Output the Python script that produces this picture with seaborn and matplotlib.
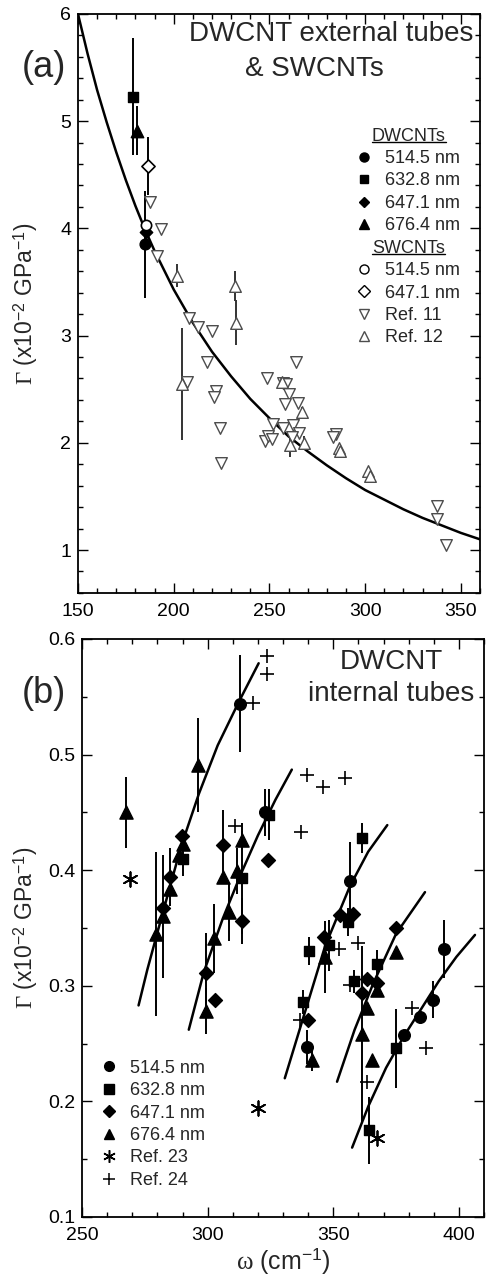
import matplotlib
matplotlib.use("Agg")
import matplotlib.pyplot as plt
import seaborn as sns
from matplotlib.lines import Line2D
from matplotlib.ticker import MultipleLocator

sns.set_style("ticks")
plt.rcParams['font.family'] = ['Liberation Sans', 'DejaVu Sans']
plt.rcParams['mathtext.fontset'] = 'custom'
plt.rcParams['mathtext.rm'] = 'Liberation Serif'
plt.rcParams['mathtext.sf'] = 'Liberation Sans'
plt.rcParams['mathtext.it'] = 'Liberation Serif:italic'

# ---------- panel (a): DWCNT external tubes & SWCNTs ----------
a_dw514_x, a_dw514_y, a_dw514_err = [185.0], [3.85], [0.50]
a_dw632_x, a_dw632_y, a_dw632_err = [178.9], [5.23], [0.55]
a_dw647_x, a_dw647_y = [185.5], [3.97]
a_dw676_x, a_dw676_y, a_dw676_err = [180.6], [4.91], [0.23]
a_sw514_x, a_sw514_y = [185.5], [4.03]
a_sw647_x, a_sw647_y, a_sw647_err = [186.7], [4.58], [0.27]

ref11_x = [187.6, 193.2, 191.1, 208.1, 212.5, 219.8, 217.2, 207.1, 222.1, 221.0,
           224.2, 224.7, 248.5, 247.7, 249.4, 263.8, 256.9, 258.6, 260.2, 258.1,
           265.1, 251.7, 262.4, 257.2, 265.6, 251.1, 261.6, 284.7, 283.0, 337.3,
           337.8, 342.5]
ref11_y = [4.25, 3.99, 3.74, 3.16, 3.08, 3.04, 2.75, 2.57, 2.48, 2.43,
           2.14, 1.81, 2.60, 2.02, 2.06, 2.75, 2.56, 2.55, 2.46, 2.36,
           2.37, 2.18, 2.17, 2.14, 2.09, 2.04, 2.05, 2.08, 2.05, 1.41,
           1.29, 1.05]

ref12_x = [201.9, 231.8, 232.5, 204.1, 256.4, 267.1, 260.7, 268.2, 286.4, 286.8, 301.6, 302.8]
ref12_y = [3.56, 3.46, 3.12, 2.55, 2.57, 2.29, 1.98, 2.00, 1.95, 1.92, 1.74, 1.69]
ref12_err = [0.11, 0.14, 0.21, 0.52, 0.03, 0.04, 0.11, 0.06, 0.0, 0.0, 0.0, 0.06]

fit_a_x = [150, 155, 160, 165, 170, 175, 180, 185, 190, 195, 200, 210, 220, 230,
           240, 250, 260, 270, 280, 290, 300, 310, 320, 330, 340, 350, 360]
fit_a_y = [6.00, 5.63, 5.29, 4.99, 4.71, 4.45, 4.21, 3.99, 3.79, 3.61, 3.43, 3.12,
           2.85, 2.62, 2.41, 2.23, 2.06, 1.92, 1.79, 1.67, 1.56, 1.47, 1.38, 1.30,
           1.23, 1.16, 1.10]

# ---------- panel (b): DWCNT internal tubes ----------
b514_x = [312.9, 322.8, 356.6, 339.4, 394.2, 389.5, 384.5, 378.1]
b514_y = [0.544, 0.450, 0.391, 0.247, 0.332, 0.288, 0.273, 0.257]
b514_err = [0.042, 0.020, 0.033, 0.015, 0.025, 0.016, 0.0, 0.0]

b632_x = [290.3, 324.5, 313.5, 361.3, 355.7, 348.4, 340.5, 338.1, 358.3, 367.6, 364.2, 374.9]
b632_y = [0.410, 0.448, 0.393, 0.428, 0.355, 0.335, 0.330, 0.286, 0.304, 0.319, 0.175, 0.246]
b632_err = [0.015, 0.022, 0.048, 0.013, 0.012, 0.022, 0.012, 0.010, 0.010, 0.012, 0.029, 0.034]

b647_x = [289.7, 285.0, 282.4, 306.0, 324.1, 313.5, 299.5, 303.0, 352.7, 357.9,
          346.4, 339.8, 361.3, 363.5, 367.3, 374.9]
b647_y = [0.430, 0.394, 0.367, 0.422, 0.409, 0.356, 0.311, 0.288, 0.361, 0.362,
          0.342, 0.270, 0.294, 0.306, 0.302, 0.350]
b647_err = [0.0, 0.025, 0.0, 0.030, 0.0, 0.020, 0.035, 0.0, 0.0, 0.0,
            0.0, 0.0, 0.0, 0.0, 0.0, 0.0]

b676_x = [267.4, 296.3, 290.3, 288.7, 285.0, 282.4, 279.5, 313.5, 306.0, 311.6,
          308.6, 302.5, 299.5, 346.7, 341.4, 367.3, 363.5, 361.3, 365.6, 374.9]
b676_y = [0.450, 0.491, 0.423, 0.413, 0.384, 0.360, 0.345, 0.426, 0.394, 0.399,
          0.364, 0.341, 0.278, 0.325, 0.236, 0.296, 0.281, 0.258, 0.236, 0.329]
b676_err = [0.031, 0.041, 0.0, 0.0, 0.0, 0.053, 0.071, 0.008, 0.0, 0.020,
            0.025, 0.030, 0.020, 0.031, 0.010, 0.0, 0.0, 0.076, 0.0, 0.0]

ref23_x = [269.1, 320.2, 367.3]
ref23_y = [0.392, 0.194, 0.168]

ref24_x = [323.5, 323.5, 317.9, 339.6, 346.0, 354.5, 337.0, 310.9, 352.4, 359.9,
           356.5, 336.8, 363.3, 381.2, 387.1]
ref24_y = [0.585, 0.570, 0.545, 0.482, 0.472, 0.480, 0.433, 0.438, 0.332, 0.337,
           0.301, 0.270, 0.217, 0.281, 0.246]

fit_b1_x = [272.5, 276.0, 282.5, 289.5, 296.5, 304.0, 312.5, 320.3]
fit_b1_y = [0.283, 0.314, 0.366, 0.421, 0.466, 0.508, 0.546, 0.579]
fit_b2_x = [292.5, 298.5, 306.0, 313.5, 320.0, 327.0, 333.5]
fit_b2_y = [0.262, 0.312, 0.358, 0.398, 0.430, 0.461, 0.487]
fit_b3_x = [330.7, 338.7, 346.7, 356.6, 363.9, 371.5]
fit_b3_y = [0.220, 0.277, 0.334, 0.386, 0.416, 0.439]
fit_b4_x = [351.5, 358.5, 365.9, 375.0, 386.5]
fit_b4_y = [0.217, 0.262, 0.302, 0.345, 0.381]
fit_b5_x = [357.5, 364.0, 371.0, 378.0, 385.0, 392.0, 399.0, 406.4]
fit_b5_y = [0.160, 0.196, 0.229, 0.256, 0.280, 0.304, 0.325, 0.344]

fig = plt.figure(figsize=(4.92, 12.79), dpi=100)
ax1 = fig.add_axes([0.1585, 0.5364, 0.8171, 0.4527])
ax2 = fig.add_axes([0.1667, 0.0485, 0.8171, 0.4519])

GRAY = '#4d4d4d'
YLAB = r'$\Gamma$ (x10$^{\mathsf{-2}}$ GPa$^{\mathsf{-1}}$)'


def errbars(ax, x, y, e, color='k'):
    ax.errorbar(x, y, yerr=e, fmt='none', ecolor=color, elinewidth=1.4, capsize=0, zorder=2)


def pts(ax, x, y, marker, s, face='k', edge='k', lw=1.0, z=4):
    sns.scatterplot(x=x, y=y, marker=marker, s=s, color=face, edgecolor=edge,
                    linewidth=lw, ax=ax, zorder=z, legend=False)


# ----- panel (a) -----
sns.lineplot(x=fit_a_x, y=fit_a_y, color='k', lw=1.8, sort=False, ax=ax1, zorder=3)
errbars(ax1, ref12_x, ref12_y, ref12_err, color='#333333')
errbars(ax1, a_dw632_x, a_dw632_y, a_dw632_err)
errbars(ax1, a_dw676_x, a_dw676_y, a_dw676_err)
errbars(ax1, a_dw514_x, a_dw514_y, a_dw514_err)
errbars(ax1, a_sw647_x, a_sw647_y, a_sw647_err)
pts(ax1, ref11_x, ref11_y, 'v', 70, face='white', edge=GRAY, lw=1.0)
pts(ax1, ref12_x, ref12_y, '^', 70, face='white', edge=GRAY, lw=1.0)
pts(ax1, a_dw632_x, a_dw632_y, 's', 55)
pts(ax1, a_dw676_x, a_dw676_y, '^', 80)
pts(ax1, a_dw514_x, a_dw514_y, 'o', 60)
pts(ax1, a_dw647_x, a_dw647_y, 'D', 40)
pts(ax1, a_sw514_x, a_sw514_y, 'o', 55, face='white', lw=1.2, z=5)
pts(ax1, a_sw647_x, a_sw647_y, 'D', 45, face='white', lw=1.2, z=5)

ax1.set_xlim(150, 360)
ax1.set_ylim(0.6, 6)
ax1.xaxis.set_major_locator(MultipleLocator(50))
ax1.xaxis.set_minor_locator(MultipleLocator(10))
ax1.yaxis.set_major_locator(MultipleLocator(1))
ax1.yaxis.set_minor_locator(MultipleLocator(0.2))
ax1.set_ylabel(YLAB, fontsize=16.5)
ax1.yaxis.set_label_coords(-0.095, 0.5)

ax1.text(0.63, 0.987, 'DWCNT external tubes', transform=ax1.transAxes,
         ha='center', va='top', fontsize=20)
ax1.text(0.415, 0.928, '& SWCNTs', transform=ax1.transAxes,
         ha='left', va='top', fontsize=20)
fig.text(0.045, 0.947, '(a)', fontsize=26, ha='left', va='center')

# legend (a)
h_dw = [Line2D([], [], ls='none', marker=m, ms=ms, mfc='k', mec='k')
        for m, ms in [('o', 6.5), ('s', 6), ('D', 5.5), ('^', 7)]]
h_sw = [Line2D([], [], ls='none', marker='o', ms=6.5, mfc='white', mec='k', mew=1),
        Line2D([], [], ls='none', marker='D', ms=6, mfc='white', mec='k', mew=1),
        Line2D([], [], ls='none', marker='v', ms=7.5, mfc='white', mec=GRAY, mew=1),
        Line2D([], [], ls='none', marker='^', ms=7.5, mfc='white', mec=GRAY, mew=1)]
blank = Line2D([], [], ls='none')
labs = ['514.5 nm', '632.8 nm', '647.1 nm', '676.4 nm', '',
        '514.5 nm', '647.1 nm', 'Ref. 11', 'Ref. 12']
leg1 = ax1.legend(h_dw + [blank] + h_sw, labs, loc='upper left', bbox_to_anchor=(0.689, 0.765),
                  frameon=False, fontsize=13, handlelength=1.0, handletextpad=0.65,
                  borderpad=0, borderaxespad=0, labelspacing=0.3)

# ----- panel (b) -----
for fx, fy in [(fit_b1_x, fit_b1_y), (fit_b2_x, fit_b2_y), (fit_b3_x, fit_b3_y),
               (fit_b4_x, fit_b4_y), (fit_b5_x, fit_b5_y)]:
    sns.lineplot(x=fx, y=fy, color='k', lw=1.8, sort=False, ax=ax2, zorder=3)
errbars(ax2, b514_x, b514_y, b514_err)
errbars(ax2, b632_x, b632_y, b632_err)
errbars(ax2, b647_x, b647_y, b647_err)
errbars(ax2, b676_x, b676_y, b676_err)
pts(ax2, b514_x, b514_y, 'o', 70)
pts(ax2, b632_x, b632_y, 's', 60)
pts(ax2, b647_x, b647_y, 'D', 50)
pts(ax2, b676_x, b676_y, '^', 90)
pts(ax2, ref23_x, ref23_y, (6, 2, 0), 110, lw=1.3)
pts(ax2, ref24_x, ref24_y, '+', 110, lw=1.2)

ax2.set_xlim(250, 410)
ax2.set_ylim(0.1, 0.6)
ax2.xaxis.set_major_locator(MultipleLocator(50))
ax2.xaxis.set_minor_locator(MultipleLocator(10))
ax2.yaxis.set_major_locator(MultipleLocator(0.1))
ax2.yaxis.set_minor_locator(MultipleLocator(0.05))
ax2.set_ylabel(YLAB, fontsize=16.5)
ax2.yaxis.set_label_coords(-0.104, 0.5)
ax2.set_xlabel(r'$\mathrm{\omega}$ (cm$^{\mathsf{-1}}$)', fontsize=18, labelpad=2)

ax2.text(0.77, 0.982, 'DWCNT\ninternal tubes', transform=ax2.transAxes,
         ha='center', va='top', fontsize=20, linespacing=1.3)
fig.text(0.045, 0.458, '(b)', fontsize=26, ha='left', va='center')

h_b = [Line2D([], [], ls='none', marker='o', ms=7, mfc='k', mec='k'),
       Line2D([], [], ls='none', marker='s', ms=6.5, mfc='k', mec='k'),
       Line2D([], [], ls='none', marker='D', ms=6, mfc='k', mec='k'),
       Line2D([], [], ls='none', marker='^', ms=7.5, mfc='k', mec='k'),
       Line2D([], [], ls='none', marker=(6, 2, 0), ms=9, mec='k', mew=1.1),
       Line2D([], [], ls='none', marker='+', ms=9, mec='k', mew=1.1)]
ax2.legend(h_b, ['514.5 nm', '632.8 nm', '647.1 nm', '676.4 nm', 'Ref. 23', 'Ref. 24'],
           loc='upper left', bbox_to_anchor=(0.045, 0.272), frameon=False, fontsize=13,
           handlelength=1.0, handletextpad=0.65, borderpad=0, borderaxespad=0,
           labelspacing=0.3)

for ax in (ax1, ax2):
    ax.tick_params(which='both', direction='in', top=True, right=True, labelsize=14,
                   width=1.0, colors='k')
    ax.tick_params(which='major', length=7)
    ax.tick_params(which='minor', length=3.5)
    ax.tick_params(axis='x', which='major', pad=7)
    ax.tick_params(axis='y', which='major', pad=5)
    for sp in ax.spines.values():
        sp.set_linewidth(1.3)
        sp.set_color('k')

ax1.yaxis.set_major_formatter(plt.FormatStrFormatter('%d'))
ax2.yaxis.set_major_formatter(plt.FormatStrFormatter('%.1f'))

# legend headers, underlined, centred over the legend rows
fig.canvas.draw()
inv = ax1.transAxes.inverted()
ltx = leg1.get_texts()
r0 = ltx[0].get_window_extent()
r3 = ltx[3].get_window_extent()
r5 = ltx[5].get_window_extent()
step = (r3.y0 - r5.y0) / 2
_, y_dw = inv.transform((0, (r0.y0 + r0.y1) / 2 + step))
_, y_sw = inv.transform((0, (r3.y0 + r3.y1 + r5.y0 + r5.y1) / 4))
hdr1 = ax1.text(0.823, y_dw, 'DWCNTs', transform=ax1.transAxes, ha='center',
                va='center', fontsize=13)
hdr2 = ax1.text(0.823, y_sw, 'SWCNTs', transform=ax1.transAxes, ha='center',
                va='center', fontsize=13)
fig.canvas.draw()
for t in (hdr1, hdr2):
    bb = t.get_window_extent()
    (x0, y0), (x1, _) = inv.transform([(bb.x0, bb.y0), (bb.x1, bb.y1)])
    ax1.plot([x0, x1], [y0 + 0.004, y0 + 0.004], color='k', lw=1.0,
             transform=ax1.transAxes, clip_on=False)

fig.savefig('out.png', dpi=100)
